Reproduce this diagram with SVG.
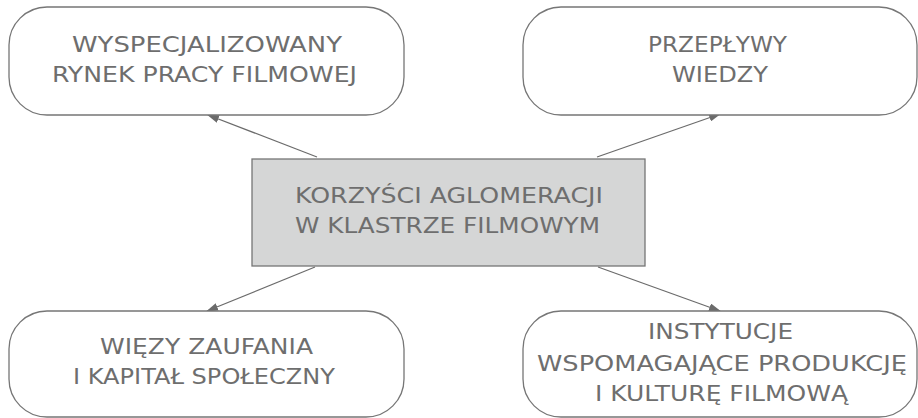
<svg xmlns="http://www.w3.org/2000/svg" width="918" height="418" viewBox="0 0 918 418">
<style>
.box{fill:#ffffff;stroke:#767676;stroke-width:1.3}
.core{fill:#d5d6d6;stroke:#767676;stroke-width:1.3}
text{font-family:"DejaVu Sans","Liberation Sans",sans-serif;font-size:21px;fill:#6e6e6e;text-anchor:middle}
.conn{stroke:#6b6b6b;stroke-width:1.2;fill:none}
</style>
<defs>
<marker id="ah" markerWidth="12" markerHeight="8" refX="11" refY="4" orient="auto" markerUnits="userSpaceOnUse">
<path d="M0,0 L12,4 L0,8 z" fill="#6b6b6b"/>
</marker>
</defs>
<g id="connectors">
<line class="conn" x1="317" y1="157" x2="208" y2="115" marker-end="url(#ah)"/>
<line class="conn" x1="597" y1="157" x2="720" y2="114" marker-end="url(#ah)"/>
<line class="conn" x1="315" y1="267" x2="207" y2="311" marker-end="url(#ah)"/>
<line class="conn" x1="598" y1="267" x2="720" y2="311" marker-end="url(#ah)"/>
</g>
<g id="rynek">
<rect class="box" x="9" y="7" width="395" height="108" rx="38" ry="38"/>
<text x="207" y="52" textLength="270" lengthAdjust="spacingAndGlyphs">WYSPECJALIZOWANY</text>
<text x="204.5" y="82" textLength="305" lengthAdjust="spacingAndGlyphs">RYNEK PRACY FILMOWEJ</text>
</g>
<g id="przeplywy">
<rect class="box" x="523" y="7" width="394" height="108" rx="38" ry="38"/>
<text x="717.5" y="52" textLength="139" lengthAdjust="spacingAndGlyphs">PRZEPŁYWY</text>
<text x="720" y="82" textLength="96" lengthAdjust="spacingAndGlyphs">WIEDZY</text>
</g>
<g id="korzysci">
<rect class="core" x="252" y="159" width="393" height="107"/>
<text x="449" y="203" textLength="308" lengthAdjust="spacingAndGlyphs">KORZYŚCI AGLOMERACJI</text>
<text x="447.5" y="233" textLength="305" lengthAdjust="spacingAndGlyphs">W KLASTRZE FILMOWYM</text>
</g>
<g id="wiezy">
<rect class="box" x="9" y="311" width="395" height="106" rx="38" ry="38"/>
<text x="206.5" y="354" textLength="213" lengthAdjust="spacingAndGlyphs">WIĘZY ZAUFANIA</text>
<text x="204" y="384" textLength="262" lengthAdjust="spacingAndGlyphs">I KAPITAŁ SPOŁECZNY</text>
</g>
<g id="instytucje">
<rect class="box" x="523" y="311" width="394" height="106" rx="38" ry="38"/>
<text x="720.5" y="339" textLength="145" lengthAdjust="spacingAndGlyphs">INSTYTUCJE</text>
<text x="722" y="371" textLength="370" lengthAdjust="spacingAndGlyphs">WSPOMAGAJĄCE PRODUKCJĘ</text>
<text x="721.5" y="401" textLength="253" lengthAdjust="spacingAndGlyphs">I KULTURĘ FILMOWĄ</text>
</g>
</svg>
